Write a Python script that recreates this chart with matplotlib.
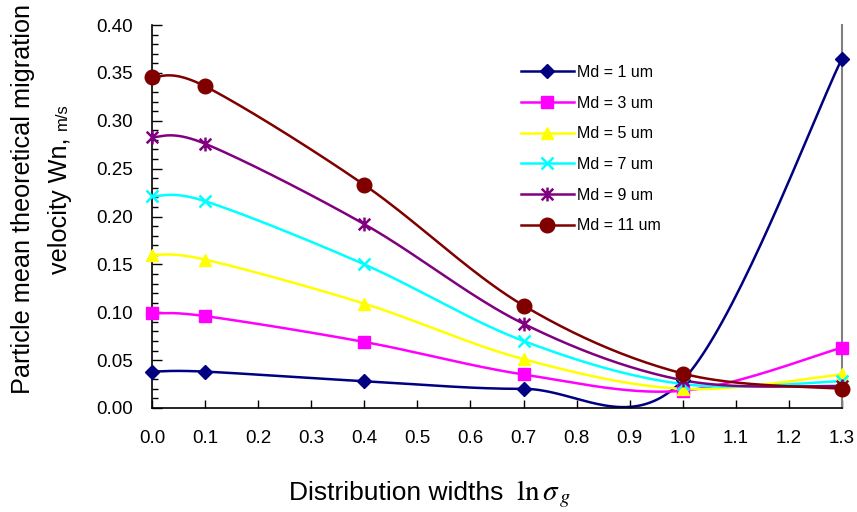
import numpy as np
import matplotlib
matplotlib.use("Agg")
import matplotlib.pyplot as plt
from matplotlib.lines import Line2D
from matplotlib.path import Path
from matplotlib.ticker import MultipleLocator, FormatStrFormatter

plt.rcParams['font.family'] = ['Liberation Sans', 'DejaVu Sans']

# ---- data ----
x_vals = [0.0, 0.1, 0.4, 0.7, 1.0, 1.3]
md1 = [0.038, 0.038, 0.028, 0.020, 0.029, 0.365]
md3 = [0.099, 0.096, 0.069, 0.035, 0.018, 0.063]
md5 = [0.160, 0.155, 0.109, 0.051, 0.020, 0.035]
md7 = [0.221, 0.216, 0.150, 0.070, 0.025, 0.028]
md9 = [0.283, 0.276, 0.192, 0.088, 0.029, 0.023]
md11 = [0.346, 0.336, 0.233, 0.107, 0.036, 0.020]
labels = ["Md = 1 um", "Md = 3 um", "Md = 5 um", "Md = 7 um", "Md = 9 um", "Md = 11 um"]
series = [md1, md3, md5, md7, md9, md11]

colors = ["#000080", "#FF00FF", "#FFFF00", "#00FFFF", "#800080", "#800000"]

star = Path([(-1, -1), (1, 1), (-1, 1), (1, -1), (0, -1.2), (0, 1.2)],
            [Path.MOVETO, Path.LINETO, Path.MOVETO, Path.LINETO, Path.MOVETO, Path.LINETO])
markers = ["D", "s", "^", "x", star, "o"]
msizes = [7, 8.5, 9, 9, 10, 10.5]


def excel_smooth(xs, ys, n=40):
    xs = np.asarray(xs, float)
    ys = np.asarray(ys, float)
    pts = np.column_stack([xs, ys])
    out = []
    m = len(pts)
    for i in range(m - 1):
        p0 = pts[i - 1] if i > 0 else pts[i]
        p1 = pts[i]
        p2 = pts[i + 1]
        p3 = pts[i + 2] if i + 2 < m else pts[i + 1]
        c1 = p1 + (p2 - p0) / 6.0
        c2 = p2 - (p3 - p1) / 6.0
        t = np.linspace(0, 1, n)[:, None]
        seg = ((1 - t) ** 3) * p1 + 3 * ((1 - t) ** 2) * t * c1 + 3 * (1 - t) * t ** 2 * c2 + t ** 3 * p2
        if i > 0:
            seg = seg[1:]
        out.append(seg)
    out = np.vstack(out)
    return out[:, 0], out[:, 1]


fig = plt.figure(figsize=(8.57, 5.12), dpi=100)
W, H = 857, 512
ax = fig.add_axes([152 / W, 1 - 408 / H, (842 - 152) / W, (408 - 25) / H])

handles = []
for ys, c, mk, ms, lab in zip(series, colors, markers, msizes, labels):
    sx, sy = excel_smooth(x_vals, ys)
    ax.plot(sx, sy, color=c, lw=1.8, solid_capstyle='round', zorder=2)
    filled = mk not in ("x",) and mk is not star
    ax.plot(x_vals, ys, linestyle='none', marker=mk, ms=ms, color=c,
            mec=c, mfc=c, mew=1.8 if not filled else 1.0, zorder=3, clip_on=False)
    handles.append(Line2D([], [], color=c, lw=1.8, marker=mk, ms=ms, mec=c, mfc=c,
                          mew=1.8 if not filled else 1.0))

ax.set_xlim(0, 1.3)
ax.set_ylim(0, 0.40)
ax.xaxis.set_major_locator(MultipleLocator(0.1))
ax.yaxis.set_major_locator(MultipleLocator(0.05))
ax.yaxis.set_minor_locator(MultipleLocator(0.01))
ax.xaxis.set_major_formatter(FormatStrFormatter('%.1f'))
ax.yaxis.set_major_formatter(FormatStrFormatter('%.2f'))
ax.tick_params(axis='x', which='major', direction='in', length=6, width=1, pad=16, labelsize=13.5)
ax.tick_params(axis='y', which='major', direction='in', length=7, width=1, pad=14, labelsize=13.5)
ax.tick_params(axis='y', which='minor', direction='in', length=4, width=1)
ax.tick_params(top=False, right=False)
ax.spines['top'].set_visible(False)
ax.spines['right'].set_color('#808080')
ax.spines['right'].set_linewidth(1.5)
ax.spines['left'].set_linewidth(1.2)
ax.spines['bottom'].set_linewidth(1.2)

leg = fig.legend(handles=handles, labels=labels, loc='upper left',
                 bbox_to_anchor=(521 / W, 1 - 65 / H), bbox_transform=fig.transFigure,
                 frameon=False, fontsize=11.5, handlelength=3.3, handletextpad=0.2,
                 labelspacing=0.98, borderpad=0, borderaxespad=0)

# y label (two lines, second with smaller units)
fig.text(30 / W, 1 - 394 / H, "Particle mean theoretical migration", rotation=90,
         rotation_mode='anchor', ha='left', va='baseline', fontsize=18.2)
t2 = fig.text(67 / W, 1 - 274 / H, "velocity Wn, ", rotation=90,
              rotation_mode='anchor', ha='left', va='baseline', fontsize=18.2)
fig.canvas.draw()
r = fig.canvas.get_renderer()
bb = t2.get_window_extent(r)
fig.text(67 / W, bb.y1 / H, "m/s", rotation=90, rotation_mode='anchor',
         ha='left', va='baseline', fontsize=12)

# x label
t3 = fig.text(289 / W, 1 - 500 / H, "Distribution widths ", ha='left', va='baseline', fontsize=19)
fig.canvas.draw()
bb3 = t3.get_window_extent(r)
fig.text(bb3.x1 / W + 0.006, 1 - 500 / H, r'$\mathrm{ln}\,\sigma_{\,g}$', ha='left', va='baseline',
         fontsize=21, math_fontfamily='stix')

fig.savefig("out.png", dpi=100)
